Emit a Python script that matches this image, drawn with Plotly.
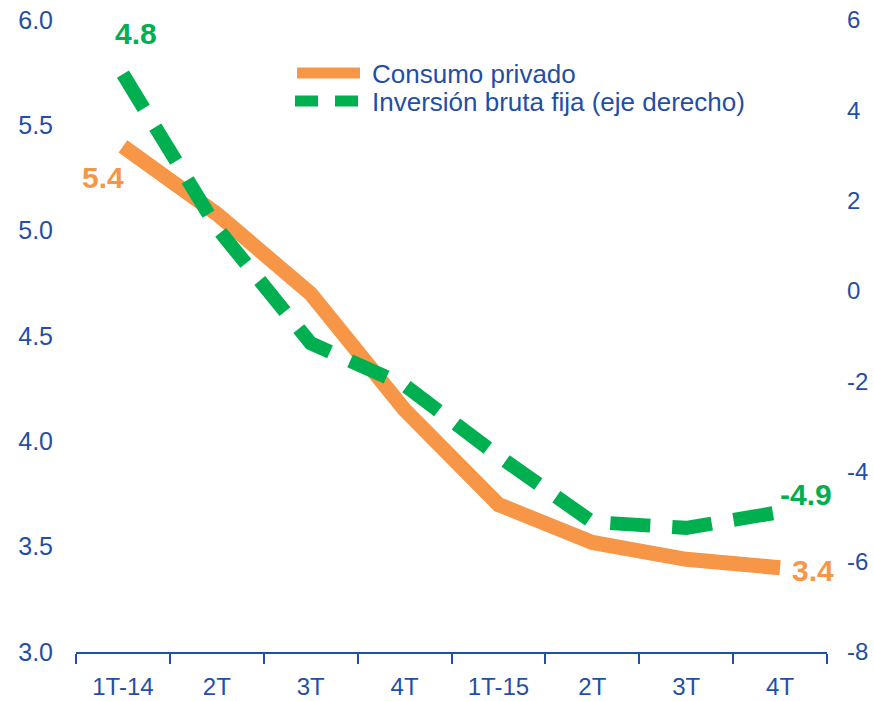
import plotly.graph_objects as go

# ---- data ----
categories = ["1T-14", "2T", "3T", "4T", "1T-15", "2T", "3T", "4T"]
consumo_privado = [5.4, 5.08, 4.70, 4.15, 3.70, 3.52, 3.44, 3.40]
inversion_bruta = [4.8, 1.4, -1.16, -2.09, -3.66, -5.12, -5.25, -4.9]
left_ticks = [3.0, 3.5, 4.0, 4.5, 5.0, 5.5, 6.0]
right_ticks = [-8, -6, -4, -2, 0, 2, 4, 6]
series_names = ["Consumo privado", "Inversión bruta fija (eje derecho)"]

BLUE = "#1F4FA6"
ORANGE = "#F79646"
GREEN = "#00B050"
FONT = "Liberation Sans, Arial, sans-serif"

x = list(range(len(categories)))

fig = go.Figure()
fig.add_trace(go.Scatter(
    x=x, y=consumo_privado, mode="lines", name=series_names[0],
    line=dict(color=ORANGE, width=15), yaxis="y", showlegend=False,
))
fig.add_trace(go.Scatter(
    x=x, y=inversion_bruta, mode="lines", name=series_names[1],
    line=dict(color=GREEN, width=14, dash="40px,22px"), yaxis="y2", showlegend=False,
))

# data labels (first and last points)
LBL = 30
ann = []
ann.append(dict(x=x[0], y=consumo_privado[0], xref="x", yref="y",
                text=f"{consumo_privado[0]:.1f}", showarrow=False,
                xshift=-20, yshift=-31,
                font=dict(family=FONT, size=LBL, color=ORANGE, weight="bold")))
ann.append(dict(x=x[-1], y=consumo_privado[-1], xref="x", yref="y",
                text=f"{consumo_privado[-1]:.1f}", showarrow=False,
                xshift=33, yshift=-3,
                font=dict(family=FONT, size=LBL, color=ORANGE, weight="bold")))
ann.append(dict(x=x[0], y=inversion_bruta[0], xref="x", yref="y2",
                text=f"{inversion_bruta[0]:.1f}", showarrow=False,
                xshift=13, yshift=41,
                font=dict(family=FONT, size=LBL, color=GREEN, weight="bold")))
ann.append(dict(x=x[-1], y=inversion_bruta[-1], xref="x", yref="y2",
                text=f"{inversion_bruta[-1]:.1f}", showarrow=False,
                xshift=26, yshift=18,
                font=dict(family=FONT, size=LBL, color=GREEN, weight="bold")))

# custom legend
W, H = 874, 701
ml, mr, mt, mb = 76, 47, 20, 49
pw, ph = W - ml - mr, H - mt - mb
def px(xp):
    return (xp - ml) / pw
def py(yp):
    return 1 - (yp - mt) / ph

shapes = [
    dict(type="line", xref="paper", yref="paper", x0=px(297), x1=px(360), y0=py(73), y1=py(73),
         line=dict(color=ORANGE, width=11)),
    dict(type="line", xref="paper", yref="paper", x0=px(295), x1=px(318), y0=py(101), y1=py(101),
         line=dict(color=GREEN, width=11)),
    dict(type="line", xref="paper", yref="paper", x0=px(335), x1=px(358), y0=py(101), y1=py(101),
         line=dict(color=GREEN, width=11)),
]
for i, yp in enumerate([74, 102]):
    ann.append(dict(x=px(370), y=py(yp), xref="paper", yref="paper", text=series_names[i],
                    showarrow=False, xanchor="left", yanchor="middle",
                    font=dict(family=FONT, size=26, color=BLUE)))

fig.update_layout(
    width=W, height=H,
    margin=dict(l=ml, r=mr, t=mt, b=mb, pad=0, autoexpand=False),
    paper_bgcolor="white", plot_bgcolor="white",
    font=dict(family=FONT, color=BLUE, size=24),
    showlegend=False,
    xaxis=dict(
        range=[-0.5, len(categories) - 0.5], automargin=False,
        tickmode="array", tickvals=x, ticktext=categories,
        ticks="", showgrid=False, zeroline=False,
        showline=True, linecolor=BLUE, linewidth=2,
        tickfont=dict(family=FONT, size=24, color=BLUE),
        ticklabelstandoff=12,
        minor=dict(tick0=-0.5, dtick=1, ticks="outside", ticklen=10, tickwidth=2,
                   tickcolor=BLUE, showgrid=False),
    ),
    yaxis=dict(
        range=[left_ticks[0], left_ticks[-1]], automargin=False,
        tickmode="array", tickvals=left_ticks, ticktext=[f"{v:.1f}" for v in left_ticks],
        showgrid=False, zeroline=False, showline=False, ticks="",
        tickfont=dict(family=FONT, size=25, color=BLUE),
        ticklabelstandoff=22,
    ),
    yaxis2=dict(
        range=[right_ticks[0], right_ticks[-1]], overlaying="y", side="right", automargin=False,
        tickmode="array", tickvals=right_ticks, ticktext=[str(v) for v in right_ticks],
        showgrid=False, zeroline=False, showline=False, ticks="",
        tickfont=dict(family=FONT, size=24, color=BLUE),
        ticklabelstandoff=19,
    ),
    annotations=ann,
    shapes=shapes,
)

fig.write_html("out.html")
